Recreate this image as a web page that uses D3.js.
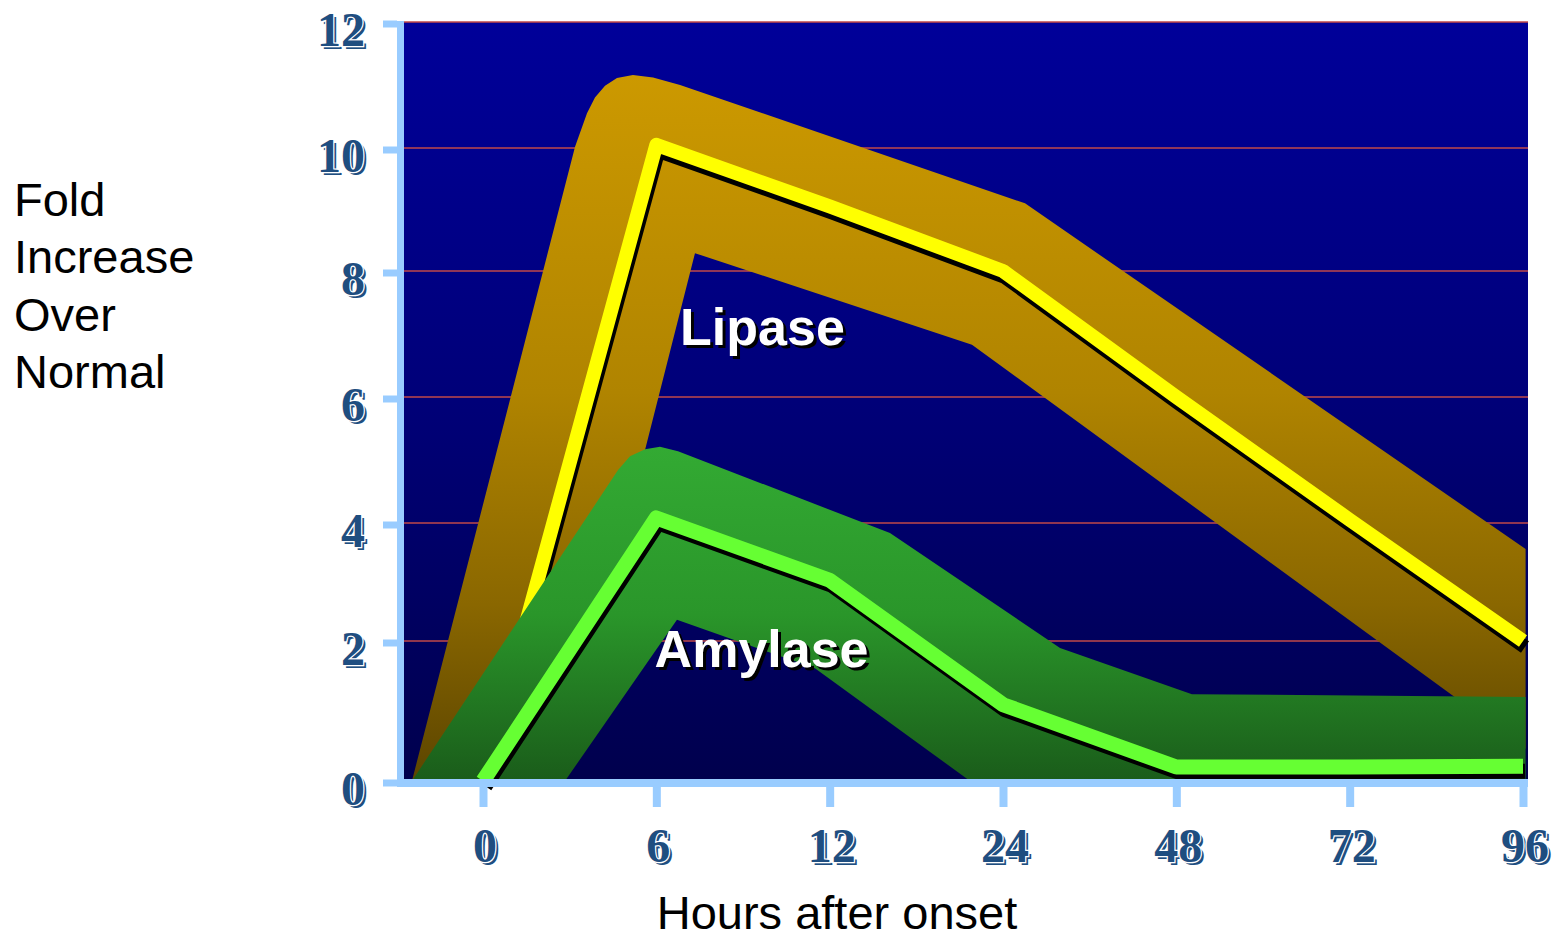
<!DOCTYPE html>
<html>
<head>
<meta charset="utf-8">
<script src="https://cdn.jsdelivr.net/npm/d3@7"></script>
<style>
  body { margin: 0; background: #fff; }
  svg { display: block; }
</style>
</head>
<body>
<script>

// hours after onset (categories) and y tick values
var hours = ["0", "6", "12", "24", "48", "72", "96"];
var yTicks = [0, 2, 4, 6, 8, 10, 12];

// mean fold increase, one value per category
var lipase = [0, 10.05, 9.05, 8.0, 6.0, 4.05, 2.0];
var amylase = [0, 4.08, 3.03, 1.09, 0.2, 0.2, 0.21];

// range bands: [category index, fold increase]
var lipaseUpper = [[-0.41, 0], [0.531, 10.02], [0.6, 10.55], [0.646, 10.8], [0.704, 10.99], [0.773, 11.11],
  [0.865, 11.16], [0.981, 11.12], [1.137, 11.0], [3.127, 9.1], [6.015, 3.56]];
var lipaseLower = [[0.45, 0], [1.223, 8.29], [2.821, 6.83], [6.015, 0.46]];
var amylaseUpper = [[-0.41, 0], [0.779, 4.84], [0.848, 5.06], [0.935, 5.17], [1.021, 5.21],
  [1.125, 5.14], [2.348, 3.83], [3.329, 1.9], [4.09, 1.24], [6.015, 1.2]];
var amylaseLower = [[0.473, 0], [1.119, 2.36], [1.915, 1.61], [2.81, 0], [6.015, 0]];

var yTitle = ["Fold", "Increase", "Over", "Normal"];
var xTitle = "Hours after onset";

var width = 1558, height = 940;
var plotLeft = 402, plotRight = 1528;

var svg = d3.select("body").append("svg")
    .attr("width", width)
    .attr("height", height);

var x = d3.scaleLinear().domain([0, hours.length - 1]).range([483, 1523]);
// the original axis is not quite even, so the scale is piecewise
var y = d3.scaleLinear().domain(yTicks).range([781, 641, 523, 397, 271, 148, 22]);

var defs = svg.append("defs");

function vGrad(id, stops) {
  var g = defs.append("linearGradient").attr("id", id)
      .attr("x1", 0).attr("y1", 0).attr("x2", 0).attr("y2", 1);
  stops.forEach(function(s) {
    g.append("stop").attr("offset", s[0]).attr("stop-color", s[1]);
  });
}
vGrad("bgGrad", [[0, "#000099"], [0.5, "#000078"], [1, "#00004d"]]);
vGrad("lipGrad", [[0, "#cc9900"], [0.45, "#b08400"], [0.75, "#8a6700"], [1, "#5c4500"]]);
vGrad("amyGrad", [[0, "#33aa33"], [0.5, "#2a962a"], [1, "#1a5c1a"]]);

defs.append("clipPath").attr("id", "plotClip")
  .append("rect")
    .attr("x", plotLeft).attr("y", y(12))
    .attr("width", plotRight - plotLeft).attr("height", y(0) - y(12));

// plot background
svg.append("rect")
    .attr("x", plotLeft - 2).attr("y", y(12))
    .attr("width", plotRight - plotLeft + 2).attr("height", y(0) - y(12))
    .attr("fill", "url(#bgGrad)");

// grid lines
svg.append("g").selectAll("line")
    .data(yTicks.filter(function(d) { return d > 0; }))
    .enter().append("line")
    .attr("x1", plotLeft).attr("x2", plotRight)
    .attr("y1", function(d) { return y(d); })
    .attr("y2", function(d) { return y(d); })
    .attr("stroke", "#c04848")
    .attr("stroke-width", 1.5);

var bandLine = d3.line()
    .x(function(d) { return x(d[0]); })
    .y(function(d) { return y(d[1]); });

function band(upper, lower) {
  return bandLine(upper.concat(lower.slice().reverse())) + "Z";
}

var seriesLine = d3.line()
    .x(function(d, i) { return x(i); })
    .y(function(d) { return y(d); });

var bands = svg.append("g").attr("clip-path", "url(#plotClip)");

// lipase band and line
bands.append("path")
    .attr("d", band(lipaseUpper, lipaseLower))
    .attr("fill", "url(#lipGrad)");

svg.append("path")
    .attr("d", seriesLine(lipase))
    .attr("transform", "translate(2,6)")
    .attr("fill", "none")
    .attr("stroke", "#000")
    .attr("stroke-width", 14)
    .attr("stroke-linejoin", "round");

svg.append("path")
    .attr("d", seriesLine(lipase))
    .attr("fill", "none")
    .attr("stroke", "#ffff00")
    .attr("stroke-width", 14)
    .attr("stroke-linejoin", "round");

// amylase band and line
var bands2 = svg.append("g").attr("clip-path", "url(#plotClip)");
bands2.append("path")
    .attr("d", band(amylaseUpper, amylaseLower))
    .attr("fill", "url(#amyGrad)");

svg.append("path")
    .attr("d", seriesLine(amylase))
    .attr("transform", "translate(2,5)")
    .attr("fill", "none")
    .attr("stroke", "#000")
    .attr("stroke-width", 15)
    .attr("stroke-linejoin", "round");

svg.append("path")
    .attr("d", seriesLine(amylase))
    .attr("fill", "none")
    .attr("stroke", "#66ff33")
    .attr("stroke-width", 15)
    .attr("stroke-linejoin", "round");

// series labels
function shadowLabel(txt, px, py) {
  svg.append("text")
      .attr("x", px + 3).attr("y", py + 3)
      .attr("font-family", "Liberation Sans, Arial, sans-serif")
      .attr("font-weight", "bold")
      .attr("font-size", "52px")
      .attr("fill", "#000")
      .text(txt);
  svg.append("text")
      .attr("x", px).attr("y", py)
      .attr("font-family", "Liberation Sans, Arial, sans-serif")
      .attr("font-weight", "bold")
      .attr("font-size", "52px")
      .attr("fill", "#fff")
      .text(txt);
}
shadowLabel("Lipase", x(1.137), y(6.83));
shadowLabel("Amylase", x(0.99), y(1.63));

// axes
var axisColor = "#99ccff";

var yAxis = svg.append("g")
    .attr("transform", "translate(397,1.5)")
    .call(d3.axisLeft(y).tickValues(yTicks).tickSize(14).tickFormat(""));
yAxis.select(".domain").remove();
yAxis.selectAll(".tick line").attr("stroke", axisColor).attr("stroke-width", 7);

var xAxis = svg.append("g")
    .attr("transform", "translate(0,787)")
    .call(d3.axisBottom(x).tickValues(d3.range(hours.length)).tickSize(20).tickFormat(""));
xAxis.select(".domain").remove();
xAxis.selectAll(".tick line").attr("stroke", axisColor).attr("stroke-width", 8);

svg.append("line")
    .attr("x1", 400.5).attr("x2", 400.5)
    .attr("y1", y(12) - 1).attr("y2", 787)
    .attr("stroke", axisColor).attr("stroke-width", 7);

svg.append("line")
    .attr("x1", 397).attr("x2", plotRight)
    .attr("y1", 783).attr("y2", 783)
    .attr("stroke", axisColor).attr("stroke-width", 8);

// tick labels: blue serif digits with an offset copy and white outline
var tickBlue = "#1f4e80";
function embossed(g, data, fx, fy, anchor, fmt) {
  g.selectAll("text.sh")
      .data(data).enter().append("text")
      .attr("class", "sh")
      .attr("x", function(d, i) { return fx(d, i) + 3; })
      .attr("y", function(d, i) { return fy(d, i) + 3; })
      .attr("text-anchor", anchor)
      .attr("fill", tickBlue)
      .text(fmt);
  g.selectAll("text.mn")
      .data(data).enter().append("text")
      .attr("class", "mn")
      .attr("x", fx)
      .attr("y", fy)
      .attr("text-anchor", anchor)
      .attr("fill", tickBlue)
      .attr("stroke", "#fff")
      .attr("stroke-width", 2.5)
      .attr("paint-order", "stroke")
      .text(fmt);
}

var yLab = svg.append("g")
    .attr("font-family", "Liberation Serif, Times New Roman, serif")
    .attr("font-weight", "bold")
    .attr("font-size", "48px");
embossed(yLab, yTicks,
  function() { return 365; },
  function(d) { return y(d) + 24; },
  "end", function(d) { return d; });

var xLab = svg.append("g")
    .attr("font-family", "Liberation Serif, Times New Roman, serif")
    .attr("font-weight", "bold")
    .attr("font-size", "48px");
embossed(xLab, hours,
  function(d, i) { return x(i) + 2; },
  function() { return 862; },
  "middle", function(d) { return d; });

// axis titles
svg.append("g").selectAll("text")
    .data(yTitle)
    .enter().append("text")
    .attr("x", 14)
    .attr("y", function(d, i) { return 216 + i * 57.3; })
    .attr("font-family", "Liberation Sans, Arial, sans-serif")
    .attr("font-size", "47px")
    .attr("fill", "#000")
    .text(function(d) { return d; });

svg.append("text")
    .attr("x", 837).attr("y", 929)
    .attr("text-anchor", "middle")
    .attr("font-family", "Liberation Sans, Arial, sans-serif")
    .attr("font-size", "47px")
    .attr("fill", "#000")
    .text(xTitle);

</script>
</body>
</html>
